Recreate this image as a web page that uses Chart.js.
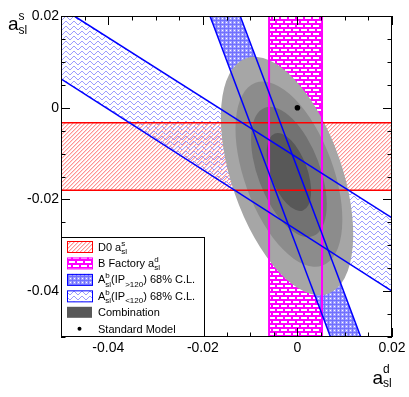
<!DOCTYPE html>
<html>
<head>
<meta charset="utf-8">
<script src="https://cdn.jsdelivr.net/npm/chart.js@4"></script>
<style>
  html, body { margin: 0; padding: 0; background: #fff; }
  canvas { display: block; }
</style>
</head>
<body>
<canvas id="asl" width="409" height="397"></canvas>
<script>
// axis ranges and labelled ticks
const xRange = [-0.05, 0.02];
const yRange = [-0.05, 0.02];
const xTickLabels = [-0.04, -0.02, 0, 0.02];
const yTickLabels = [-0.04, -0.02, 0, 0.02];
const minorStep = 0.005;

// D0 a_sl^s band (y from, y to)
const d0Band = [-0.0180, -0.0033];
// B factory a_sl^d band (x from, x to)
const bfBand = [-0.0060, 0.0052];
// A_sl^b (IP > 120) band edges, each as [x, y] end points
const ipHighLeft = [[-0.0185, 0.02], [0.0070, -0.05]];
const ipHighRight = [[-0.0121, 0.02], [0.0134, -0.05]];
// A_sl^b (IP < 120) band edges
const ipLowUpper = [[-0.0472, 0.02], [0.02, -0.0240]];
const ipLowLower = [[-0.05, 0.0063], [0.02, -0.0400]];

// combination contours, outermost first
const combCx = [-0.0022, -0.0018, -0.0018, -0.0018];
const combCy = [-0.0149, -0.0145, -0.0140, -0.0140];
const combSx = [0.0140, 0.0113, 0.0080, 0.0047];
const combSy = [0.0260, 0.0202, 0.0142, 0.0085];
const combRho = [-0.49, -0.49, -0.50, -0.50];
const combColors = ["#a6a6a6", "#8c8c8c", "#727272", "#585858"];

// standard model expectation
const smPoint = [0, 0];

const FONT = '"Liberation Sans", Arial, Helvetica, sans-serif';
const canvas = document.getElementById("asl");

function makePattern(w, h, draw) {
  const c = document.createElement("canvas");
  c.width = w;
  c.height = h;
  draw(c.getContext("2d"));
  return canvas.getContext("2d").createPattern(c, "repeat");
}

// opaque pixel tiles for the ROOT-like fill styles
const redHatch = makePattern(4, 4, (g) => {
  for (let i = 0; i < 4; i++) {
    g.fillStyle = "#ff9494";
    g.fillRect(i, 3 - i, 1, 1);
    g.fillStyle = "#ffd4d4";
    g.fillRect(i, (4 - i) % 4, 1, 1);
  }
});

const brick = makePattern(8, 8, (g) => {
  g.fillStyle = "#ff00ff";
  g.fillRect(0, 0, 8, 8);
  g.clearRect(1, 1, 6, 2);
  g.clearRect(5, 5, 6, 2);
  g.clearRect(-3, 5, 6, 2);
});

const crossHatch = makePattern(4, 4, (g) => {
  g.fillStyle = "#a0a0ff";
  g.fillRect(0, 0, 4, 4);
  g.fillStyle = "#7070ff";
  g.fillRect(0, 0, 4, 1);
  g.fillRect(0, 0, 1, 4);
  g.clearRect(2, 2, 1, 1);
});

const wavy = makePattern(8, 5, (g) => {
  g.fillStyle = "#9c9cff";
  const rows = [2, 1, 1, 2, 3, 4, 4, 3];
  rows.forEach((r, i) => g.fillRect(i, r, 1, 1));
});

const pt = (p) => ({ x: p[0], y: p[1] });

function edge(points, color, width) {
  return {
    kind: "edge",
    data: points.map(pt),
    showLine: true,
    borderColor: color,
    borderWidth: width,
    pointRadius: 0,
    fill: false
  };
}

function area(points, pattern) {
  return {
    kind: "fill",
    data: points,
    showLine: true,
    borderColor: "rgba(0,0,0,0)",
    borderWidth: 1,
    pointRadius: 0,
    backgroundColor: pattern,
    fill: "shape"
  };
}

const d0Poly = [
  { x: xRange[0], y: d0Band[1] }, { x: xRange[1], y: d0Band[1] },
  { x: xRange[1], y: d0Band[0] }, { x: xRange[0], y: d0Band[0] }
];
const bfPoly = [
  { x: bfBand[0], y: yRange[1] }, { x: bfBand[1], y: yRange[1] },
  { x: bfBand[1], y: yRange[0] }, { x: bfBand[0], y: yRange[0] }
];
const ipHighPoly = [
  pt(ipHighLeft[0]), pt(ipHighRight[0]), pt(ipHighRight[1]), pt(ipHighLeft[1])
];
const ipLowPoly = [
  { x: xRange[0], y: yRange[1] }, pt(ipLowUpper[0]), pt(ipLowUpper[1]),
  pt(ipLowLower[1]), pt(ipLowLower[0])
];

// rich text: parts are {t} or {sup, sub}
function drawRich(ctx, parts, x, y, size, small, supOff, subOff) {
  let cx = x;
  parts.forEach((p) => {
    if (p.t !== undefined) {
      ctx.font = `${size}px ${FONT}`;
      ctx.fillText(p.t, cx, y);
      cx += ctx.measureText(p.t).width;
    } else {
      ctx.font = `${small}px ${FONT}`;
      let w = 0;
      if (p.sup) {
        ctx.fillText(p.sup, cx, y - supOff);
        w = ctx.measureText(p.sup).width;
      }
      if (p.sub) {
        ctx.fillText(p.sub, cx, y + subOff);
        w = Math.max(w, ctx.measureText(p.sub).width);
      }
      cx += w;
    }
  });
  return cx;
}

let contoursDone = false;
const contours = {
  id: "contours",
  beforeDatasetsDraw() {
    contoursDone = false;
  },
  beforeDatasetDraw(chart, args) {
    if (contoursDone || chart.data.datasets[args.index].kind !== "edge") return;
    contoursDone = true;
    const { ctx, chartArea, scales } = chart;
    const xs = scales.x, ys = scales.y;
    ctx.save();
    ctx.beginPath();
    ctx.rect(chartArea.left, chartArea.top, chartArea.width, chartArea.height);
    ctx.clip();
    combCx.forEach((cx, i) => {
      const px = xs.getPixelForValue(cx);
      const py = ys.getPixelForValue(combCy[i]);
      const hx = Math.abs(xs.getPixelForValue(cx + combSx[i]) - px);
      const hy = Math.abs(ys.getPixelForValue(combCy[i] + combSy[i]) - py);
      const r = -combRho[i]; // pixel y runs downwards
      const mxx = hx * hx, myy = hy * hy, mxy = r * hx * hy;
      const tr = (mxx + myy) / 2;
      const d = Math.sqrt(((mxx - myy) / 2) ** 2 + mxy * mxy);
      const a = Math.sqrt(tr + d), b = Math.sqrt(Math.max(tr - d, 0));
      const th = 0.5 * Math.atan2(2 * mxy, mxx - myy);
      ctx.beginPath();
      ctx.ellipse(px, py, a, b, th, 0, 2 * Math.PI);
      ctx.fillStyle = combColors[i];
      ctx.fill();
    });
    ctx.restore();
  }
};

const frame = {
  id: "frame",
  afterDatasetsDraw(chart) {
    const { ctx, chartArea: ca, scales } = chart;
    ctx.save();
    ctx.strokeStyle = "#000";
    ctx.lineWidth = 1;
    ctx.beginPath();
    for (let k = 0; ; k++) {
      const v = xRange[0] + k * minorStep;
      if (v > xRange[1] + 1e-9) break;
      const major = xTickLabels.some((t) => Math.abs(t - v) < 1e-9);
      const len = major ? 9 : 4.5;
      const px = Math.round(scales.x.getPixelForValue(v)) + 0.5;
      ctx.moveTo(px, ca.bottom); ctx.lineTo(px, ca.bottom - len);
      ctx.moveTo(px, ca.top); ctx.lineTo(px, ca.top + len);
    }
    for (let k = 0; ; k++) {
      const v = yRange[0] + k * minorStep;
      if (v > yRange[1] + 1e-9) break;
      const major = yTickLabels.some((t) => Math.abs(t - v) < 1e-9);
      const len = major ? 9 : 4.5;
      const py = Math.round(scales.y.getPixelForValue(v)) + 0.5;
      ctx.moveTo(ca.left, py); ctx.lineTo(ca.left + len, py);
      ctx.moveTo(ca.right, py); ctx.lineTo(ca.right - len, py);
    }
    ctx.stroke();
    ctx.strokeRect(ca.left + 0.5, ca.top + 0.5, ca.width - 1, ca.height - 1);
    ctx.restore();
  }
};

const legendRows = [
  { fill: redHatch, border: "#ff0000", text: [{ t: "D0 a" }, { sup: "s", sub: "sl" }] },
  { fill: brick, border: "#ff00ff", text: [{ t: "B Factory a" }, { sup: "d", sub: "sl" }] },
  { fill: crossHatch, border: "#0000ff", text: [{ t: "A" }, { sup: "b", sub: "sl" }, { t: "(IP" }, { sub: ">120" }, { t: ") 68% C.L." }] },
  { fill: wavy, border: "#0000ff", text: [{ t: "A" }, { sup: "b", sub: "sl" }, { t: "(IP" }, { sub: "<120" }, { t: ") 68% C.L." }] },
  { fill: "#585858", border: null, text: [{ t: "Combination" }] },
  { dot: true, text: [{ t: "Standard Model" }] }
];

const annotations = {
  id: "annotations",
  afterDraw(chart) {
    const { ctx, chartArea: ca } = chart;
    ctx.save();
    // legend box
    const lx = ca.left, ly = 237, lw = 143, lh = ca.bottom - ly;
    ctx.fillStyle = "#fff";
    ctx.fillRect(lx, ly, lw, lh);
    ctx.strokeStyle = "#000";
    ctx.lineWidth = 1;
    ctx.strokeRect(lx + 0.5, ly + 0.5, lw, lh - 1);
    legendRows.forEach((row, i) => {
      const cy = 246.5 + i * 16.45;
      if (row.dot) {
        ctx.fillStyle = "#000";
        ctx.beginPath();
        ctx.arc(79.5, cy, 2, 0, 2 * Math.PI);
        ctx.fill();
      } else {
        ctx.fillStyle = row.fill;
        ctx.fillRect(67, cy - 5.5, 25, 11);
        if (row.border) {
          ctx.strokeStyle = row.border;
          ctx.strokeRect(67.5, cy - 5, 25, 11);
        }
      }
      ctx.fillStyle = "#000";
      ctx.textBaseline = "alphabetic";
      drawRich(ctx, row.text, 98, cy + 4, 11, 8, 5, 3.5);
    });
    // axis titles
    ctx.fillStyle = "#000";
    drawRich(ctx, [{ t: "a" }, { sup: "d", sub: "sl" }], 372.5, 383.5, 19, 12, 10.5, 3.5);
    drawRich(ctx, [{ t: "a" }, { sup: "s", sub: "sl" }], 8, 30, 19, 12, 10.5, 3.5);
    ctx.restore();
  }
};

const fmt = (v) => (v === 0 ? "0" : String(v));

new Chart(canvas, {
  type: "scatter",
  data: {
    datasets: [
      {
        kind: "point",
        data: [pt(smPoint)],
        pointRadius: 2.8,
        backgroundColor: "#000",
        borderWidth: 0
      },
      edge(ipHighLeft, "#0000ff", 1.5),
      edge(ipHighRight, "#0000ff", 1.5),
      edge(ipLowUpper, "#0000ff", 1.5),
      edge(ipLowLower, "#0000ff", 1.5),
      edge([[bfBand[0], yRange[0]], [bfBand[0], yRange[1]]], "#ff00ff", 2),
      edge([[bfBand[1], yRange[0]], [bfBand[1], yRange[1]]], "#ff00ff", 2),
      edge([[xRange[0], d0Band[0]], [xRange[1], d0Band[0]]], "#ff0000", 1.5),
      edge([[xRange[0], d0Band[1]], [xRange[1], d0Band[1]]], "#ff0000", 1.5),
      area(ipLowPoly, wavy),
      area(ipHighPoly, crossHatch),
      area(bfPoly, brick),
      area(d0Poly, redHatch)
    ]
  },
  options: {
    responsive: false,
    animation: false,
    events: [],
    layout: { padding: { left: 0, top: 16, right: 17, bottom: 0 } },
    plugins: {
      legend: { display: false },
      tooltip: { enabled: false }
    },
    scales: {
      x: {
        type: "linear",
        min: xRange[0],
        max: xRange[1],
        grid: { display: false, drawTicks: false },
        border: { display: false },
        afterBuildTicks: (s) => { s.ticks = xTickLabels.map((v) => ({ value: v })); },
        afterFit: (s) => { s.height = 60; },
        ticks: {
          autoSkip: false,
          maxRotation: 0,
          padding: 3,
          color: "#000",
          font: { family: FONT, size: 14 },
          callback: fmt
        }
      },
      y: {
        type: "linear",
        min: yRange[0],
        max: yRange[1],
        grid: { display: false, drawTicks: false },
        border: { display: false },
        afterBuildTicks: (s) => { s.ticks = yTickLabels.map((v) => ({ value: v })); },
        afterFit: (s) => { s.width = 61; },
        ticks: {
          autoSkip: false,
          padding: 2,
          color: "#000",
          font: { family: FONT, size: 14 },
          callback: fmt
        }
      }
    }
  },
  plugins: [contours, frame, annotations]
});
</script>
</body>
</html>
